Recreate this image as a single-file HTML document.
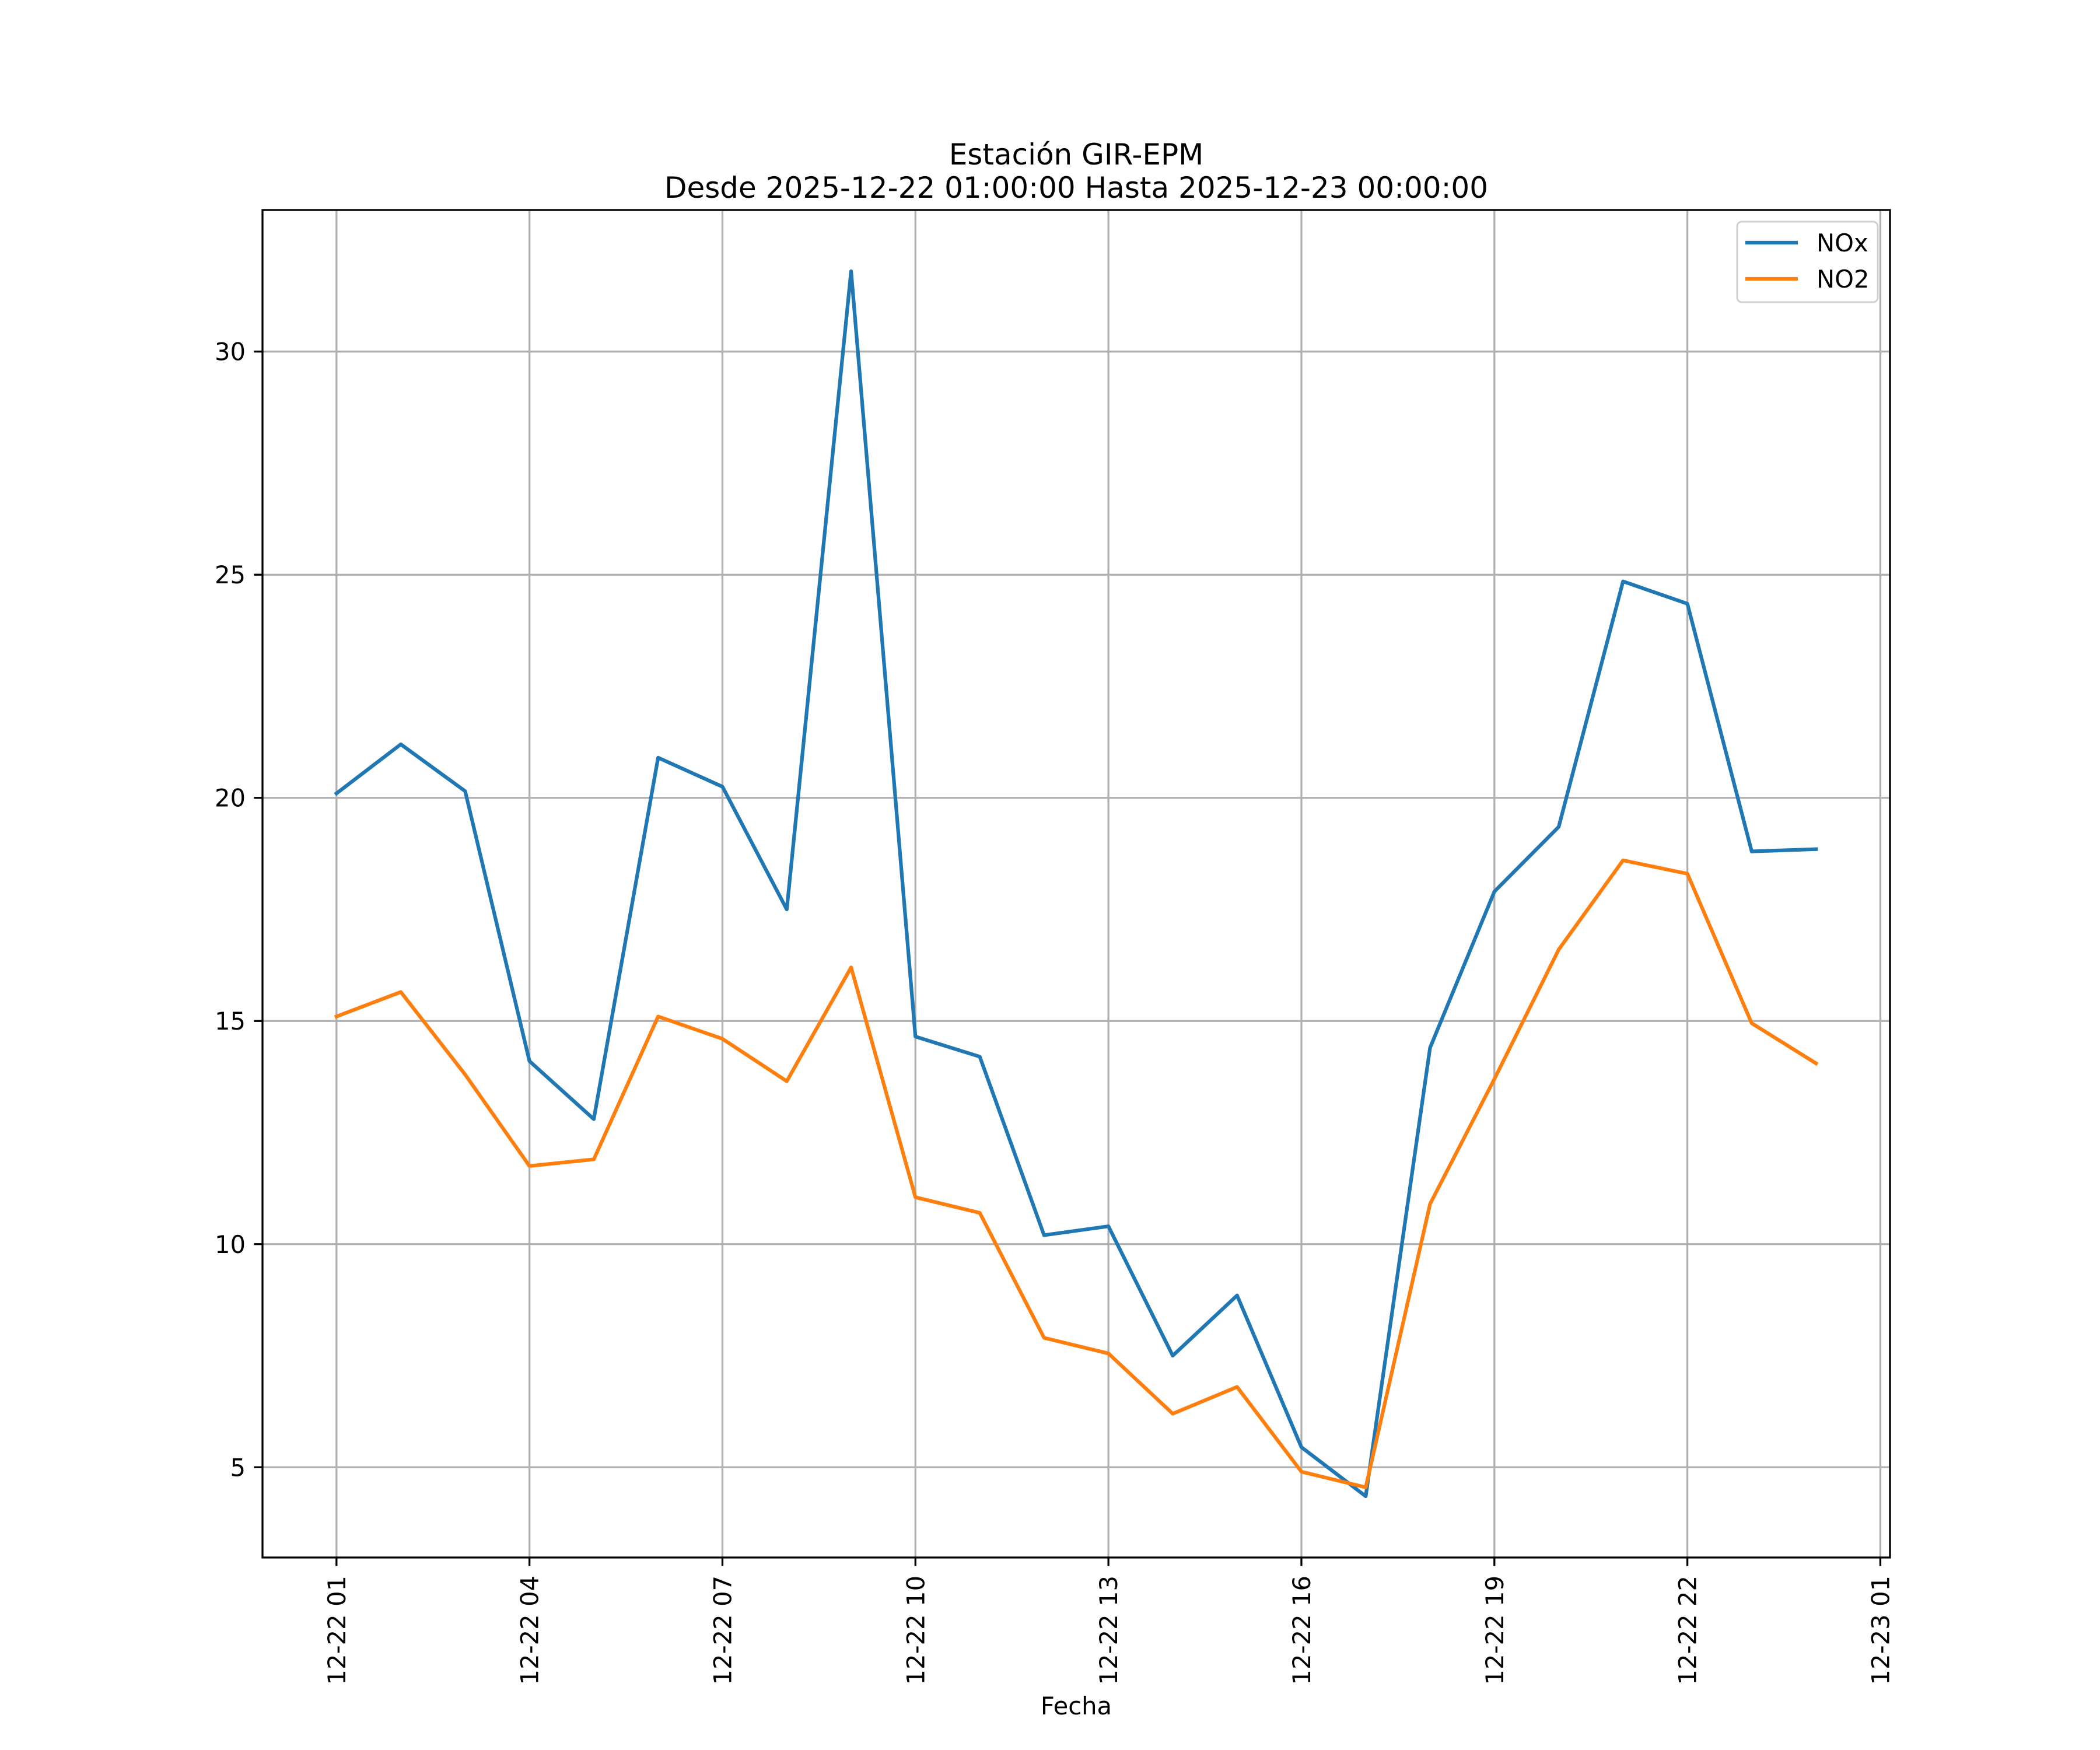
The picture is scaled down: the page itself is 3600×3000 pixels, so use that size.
<!DOCTYPE html>
<html><head><meta charset="utf-8"><style>body{margin:0;background:#fff}svg{display:block}text{font-family:"DejaVu Sans","Liberation Sans",sans-serif;fill:#000}</style></head>
<body>
<svg id="chart" width="3600" height="3000" xmlns="http://www.w3.org/2000/svg">
<rect width="3600" height="3000" fill="#fff"/>
<g id="grid"></g>
<g id="series"></g>
<rect x="450" y="360" width="2790" height="2310" fill="none" stroke="#000" stroke-width="3.3"/>
<g id="ticks"></g>
<text x="1845" y="282" text-anchor="middle" font-size="50">Estación GIR-EPM</text>
<text x="1845" y="339" text-anchor="middle" font-size="50">Desde 2025-12-22 01:00:00 Hasta 2025-12-23 00:00:00</text>
<text x="1845" y="2939" text-anchor="middle" font-size="41.7">Fecha</text>
<g>
<rect x="2978" y="380" width="241" height="138" rx="8" fill="#fff" fill-opacity="0.8" stroke="#d0d0d0" stroke-width="3"/>
<line x1="2992" y1="416" x2="3082" y2="416" stroke="#1f77b4" stroke-width="6.25"/>
<text x="3114" y="431" font-size="41.7">NOx</text>
<line x1="2992" y1="478" x2="3082" y2="478" stroke="#ff7f0e" stroke-width="6.25"/>
<text x="3114" y="493" font-size="41.7">NO2</text>
</g>
</svg>
<script>
const hours = [1,2,3,4,5,6,7,8,9,10,11,12,13,14,15,16,17,18,19,20,21,22,23,24];
const noxValues = [20.1,21.2,20.15,14.1,12.8,20.9,20.25,17.5,31.8,14.65,14.2,10.2,10.4,7.5,8.85,5.45,4.35,14.4,17.9,19.35,24.85,24.35,18.8,18.85];
const no2Values = [15.1,15.65,13.8,11.75,11.9,15.1,14.6,13.65,16.2,11.05,10.7,7.9,7.55,6.2,6.8,4.9,4.55,10.9,13.7,16.6,18.6,18.3,14.95,14.05];
const xTickHours = [1,4,7,10,13,16,19,22,25];
const xTickLabels = ["12-22 01","12-22 04","12-22 07","12-22 10","12-22 13","12-22 16","12-22 19","12-22 22","12-23 01"];
const yTicks = [5,10,15,20,25,30];

const NS="http://www.w3.org/2000/svg";
const L=450,R=3240,T=360,B=2670;
const hMin=Math.min(...hours),hMax=Math.max(...hours),hPad=(hMax-hMin)*0.05;
const allV=noxValues.concat(no2Values);
const vMin0=Math.min(...allV),vMax0=Math.max(...allV);
const vPad=(vMax0-vMin0)*0.05;
const vMin=vMin0-vPad,vMax=vMax0+vPad;
function xs(h){return L+(h-(hMin-hPad))/((hMax+hPad)-(hMin-hPad))*(R-L);}
function ys(v){return B-(v-vMin)/(vMax-vMin)*(B-T);}
function mk(tag,attrs,parent){const e=document.createElementNS(NS,tag);for(const k in attrs)e.setAttribute(k,attrs[k]);parent.appendChild(e);return e;}
const grid=document.getElementById('grid'),ticks=document.getElementById('ticks'),series=document.getElementById('series');
xTickHours.forEach((h,i)=>{
  const x=xs(h);
  const g=mk('line',{x1:x,y1:T,x2:x,y2:B,stroke:'#b0b0b0','stroke-width':3.3},grid);
  
  
  const t=mk('line',{x1:x,y1:B,x2:x,y2:B+14.6,stroke:'#000','stroke-width':3.3},ticks);
  
  
  const lb=mk('text',{x:0,y:0,'font-size':41.7,'text-anchor':'end',transform:`translate(${x+15},${B+31}) rotate(-90)`},ticks);
  lb.textContent=xTickLabels[i];
  
  
});
yTicks.forEach(v=>{
  const y=ys(v);
  const g=mk('line',{x1:L,y1:y,x2:R,y2:y,stroke:'#b0b0b0','stroke-width':3.3},grid);
  
  
  const t=mk('line',{x1:L-14.6,y1:y,x2:L,y2:y,stroke:'#000','stroke-width':3.3},ticks);
  
  
  const lb=mk('text',{x:L-29,y:y+15,'font-size':41.7,'text-anchor':'end'},ticks);
  lb.textContent=String(v);
  
  
});
function line(vals,color,name){
  const p=mk('polyline',{points:hours.map((h,i)=>xs(h)+','+ys(vals[i])).join(' '),fill:'none',stroke:color,'stroke-width':6.25,'stroke-linejoin':'round','stroke-linecap':'square'},series);
  
  
}
line(noxValues,'#1f77b4','nox-line');
line(no2Values,'#ff7f0e','no2-line');
</script>
</body></html>
